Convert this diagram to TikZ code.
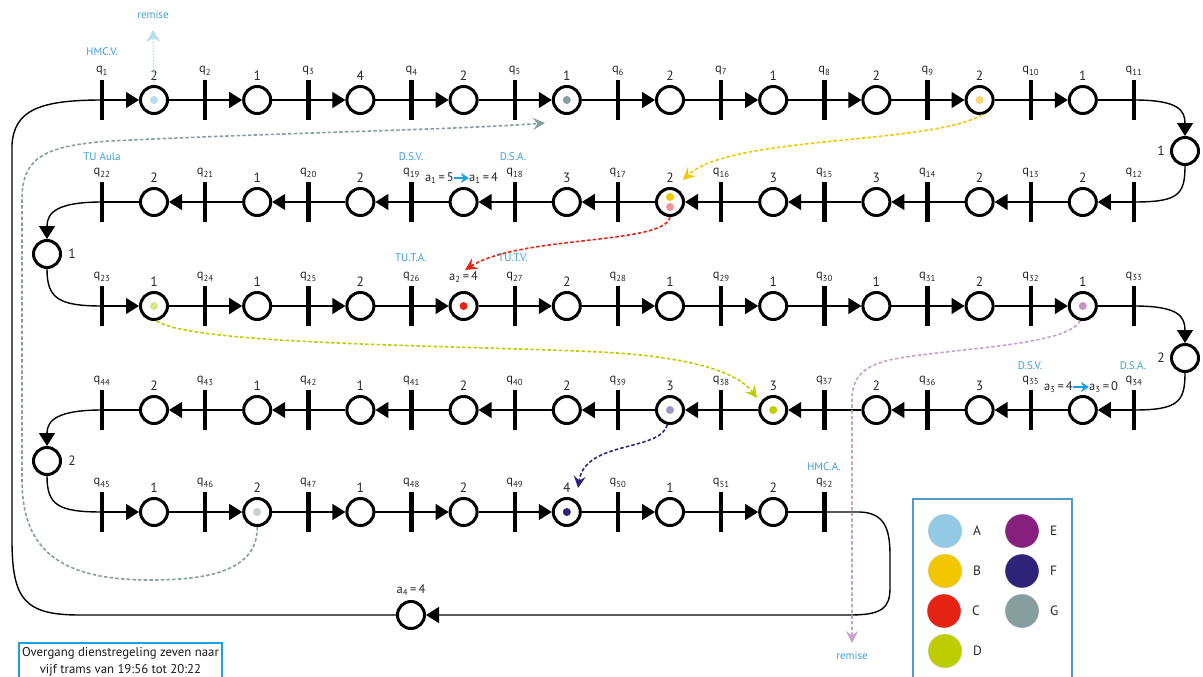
\documentclass[tikz,border=0pt]{standalone}
\usepackage{fontspec}
\setmainfont{PT Sans}
\usetikzlibrary{arrows.meta}
\definecolor{lblue}{RGB}{65,157,210}
\definecolor{abl}{RGB}{30,160,220}
\definecolor{tboxc}{RGB}{27,161,226}
\definecolor{lboxc}{RGB}{80,155,200}
\definecolor{cA}{RGB}{146,202,227}
\definecolor{cAl}{RGB}{184,221,236}
\definecolor{cB}{RGB}{242,199,0}
\definecolor{cBl}{RGB}{245,215,115}
\definecolor{cC}{RGB}{228,35,19}
\definecolor{cCl}{RGB}{240,150,150}
\definecolor{cD}{RGB}{189,205,0}
\definecolor{cDl}{RGB}{220,228,140}
\definecolor{cE}{RGB}{135,31,126}
\definecolor{cEl}{RGB}{200,147,196}
\definecolor{cEline}{RGB}{200,160,205}
\definecolor{cF}{RGB}{46,35,120}
\definecolor{cFl}{RGB}{156,152,198}
\definecolor{cG}{RGB}{135,158,158}
\definecolor{cGl}{RGB}{200,209,209}
\tikzset{
  pl/.style={circle,draw=black,line width=3pt,minimum size=27pt,inner sep=0pt},
  tbar/.style={rectangle,fill=black,minimum width=4.5pt,minimum height=40pt,inner sep=0pt},
  conn/.style={line width=1.4pt},
  arr/.style={conn,-{Triangle[length=13pt,width=16pt]}},
  nlab/.style={font=\fontsize{13.5}{15}\selectfont,inner sep=0pt,text=black!85},
  alab/.style={font=\fontsize{12.5}{15}\selectfont,inner sep=0pt,text=black!85},
  qlab/.style={font=\fontsize{12.5}{14}\selectfont,inner sep=0pt,text=black!85},
  blab/.style={font=\fontsize{11}{13}\selectfont,inner sep=0pt,text=lblue},
  dsh/.style={line width=1.6pt,dash pattern=on 3.5pt off 2.2pt},
  dtip/.style={-{Stealth[length=12pt,width=12pt,inset=4.5pt]}},
  barrow/.style={line width=2pt,color=abl,-{Stealth[length=8pt,width=10pt,inset=2.5pt]}},
  legc/.style={circle,minimum size=34pt,inner sep=0pt,draw=black!12,line width=0.4pt},
  leglab/.style={font=\fontsize{13.5}{15}\selectfont,inner sep=0pt,anchor=west,text=black!85}
}
\begin{document}
\begin{tikzpicture}[x=1pt,y=-1pt]
\useasboundingbox (0,0) rectangle (1203,677);

% ---------- Row A (y=100), left to right
\foreach \j in {1,...,11}{
  \pgfmathsetmacro\x{102+103.2*(\j-1)}
  \node[tbar] (qA\j) at (\x,100) {};
  \node[qlab] at (\x,71) {q\textsubscript{\j}};
}
\foreach \k/\t in {1/2,2/1,3/4,4/2,5/1,6/2,7/1,8/2,9/2,10/1}{
  \pgfmathsetmacro\x{154+103.2*(\k-1)}
  \node[pl] (pA\k) at (\x,100) {};
  \node[nlab] at (\x,76) {\t};
}
\foreach \k in {1,...,10}{
  \pgfmathtruncatemacro\kk{\k+1}
  \draw[arr] (qA\k.center) -- (pA\k);
  \draw[conn] (pA\k) -- (qA\kk.center);
}

% ---------- Row B (y=202), right to left
\foreach \j in {1,...,11}{
  \pgfmathsetmacro\x{102+103.2*(\j-1)}
  \pgfmathtruncatemacro\n{23-\j}
  \node[tbar] (qB\j) at (\x,202) {};
  \node[qlab] at (\x,173) {q\textsubscript{\n}};
}
\foreach \k/\t in {1/2,2/1,3/2,4/{},5/3,6/2,7/3,8/3,9/2,10/2}{
  \pgfmathsetmacro\x{154+103.2*(\k-1)}
  \node[pl] (pB\k) at (\x,202) {};
  \node[nlab] at (\x,178) {\t};
}
\foreach \k in {1,...,10}{
  \pgfmathtruncatemacro\kk{\k+1}
  \draw[arr] (qB\kk.center) -- (pB\k);
  \draw[conn] (pB\k) -- (qB\k.center);
}

% ---------- Row C (y=306), left to right
\foreach \j in {1,...,11}{
  \pgfmathsetmacro\x{102+103.2*(\j-1)}
  \pgfmathtruncatemacro\n{22+\j}
  \node[tbar] (qC\j) at (\x,306) {};
  \node[qlab] at (\x,277) {q\textsubscript{\n}};
}
\foreach \k/\t in {1/1,2/1,3/2,4/{},5/2,6/1,7/1,8/1,9/2,10/1}{
  \pgfmathsetmacro\x{154+103.2*(\k-1)}
  \node[pl] (pC\k) at (\x,306) {};
  \node[nlab] at (\x,282) {\t};
}
\foreach \k in {1,...,10}{
  \pgfmathtruncatemacro\kk{\k+1}
  \draw[arr] (qC\k.center) -- (pC\k);
  \draw[conn] (pC\k) -- (qC\kk.center);
}

% ---------- Row D (y=410), right to left
\foreach \j in {1,...,11}{
  \pgfmathsetmacro\x{102+103.2*(\j-1)}
  \pgfmathtruncatemacro\n{45-\j}
  \node[tbar] (qD\j) at (\x,410) {};
  \node[qlab] at (\x,381) {q\textsubscript{\n}};
}
\foreach \k/\t in {1/2,2/1,3/1,4/2,5/2,6/3,7/3,8/2,9/3,10/{}}{
  \pgfmathsetmacro\x{154+103.2*(\k-1)}
  \node[pl] (pD\k) at (\x,410) {};
  \node[nlab] at (\x,386) {\t};
}
\foreach \k in {1,...,10}{
  \pgfmathtruncatemacro\kk{\k+1}
  \draw[arr] (qD\kk.center) -- (pD\k);
  \draw[conn] (pD\k) -- (qD\k.center);
}

% ---------- Row E (y=512), left to right
\foreach \j in {1,...,8}{
  \pgfmathsetmacro\x{102+103.2*(\j-1)}
  \pgfmathtruncatemacro\n{44+\j}
  \node[tbar] (qE\j) at (\x,512) {};
  \node[qlab] at (\x,483) {q\textsubscript{\n}};
}
\foreach \k/\t in {1/1,2/2,3/1,4/2,5/4,6/1,7/2}{
  \pgfmathsetmacro\x{154+103.2*(\k-1)}
  \node[pl] (pE\k) at (\x,512) {};
  \node[nlab] at (\x,488) {\t};
}
\foreach \k in {1,...,7}{
  \pgfmathtruncatemacro\kk{\k+1}
  \draw[arr] (qE\k.center) -- (pE\k);
  \draw[conn] (pE\k) -- (qE\kk.center);
}

% ---------- side places
\node[pl] (pR1) at (1185,151) {};
\node[nlab] at (1161,151) {1};
\node[pl] (pL1) at (47,254) {};
\node[nlab] at (72,254) {1};
\node[pl] (pR2) at (1185,358) {};
\node[nlab] at (1161,358) {2};
\node[pl] (pL2) at (47,461) {};
\node[nlab] at (72,461) {2};
\node[pl] (pF) at (411,615) {};

\draw[arr] (qA11.center) .. controls (1178,100) and (1185,110) .. (pR1);
\draw[conn] (pR1) .. controls (1185,195) and (1178,202) .. (qB11.center);
\draw[arr] (qB1.center) .. controls (58,202) and (47,212) .. (pL1);
\draw[conn] (pL1) .. controls (47,298) and (58,306) .. (qC1.center);
\draw[arr] (qC11.center) .. controls (1178,306) and (1185,316) .. (pR2);
\draw[conn] (pR2) .. controls (1185,402) and (1178,410) .. (qD11.center);
\draw[arr] (qD1.center) .. controls (58,410) and (47,420) .. (pL2);
\draw[conn] (pL2) .. controls (47,505) and (58,512) .. (qE1.center);

% bottom loop
\draw[arr] (qE8.center) -- (860,512) .. controls (884,513) and (890,528) .. (890,555) -- (890,588) .. controls (890,608) and (882,615) .. (850,615) -- (pF);
\draw[conn] (pF) -- (80,615) .. controls (25,615) and (12,600) .. (12,540) -- (12,145) .. controls (14,110) and (40,100) .. (qA1.center);

% ---------- special labels
\node[alab,anchor=east] (a1l) at (454,178) {a\textsubscript{1}\,=\,5};
\node[alab,anchor=west] (a1r) at (469,178) {a\textsubscript{1}\,=\,4};
\draw[barrow] (a1l.east) -- (a1r.west);
\node[alab] (a2) at (463.6,277) {a\textsubscript{2}\,=\,4};
\node[alab,anchor=east] (a3l) at (1073,387) {a\textsubscript{3}\,=\,4};
\node[alab,anchor=west] (a3r) at (1089,387) {a\textsubscript{3}\,=\,0};
\draw[barrow] (a3l.east) -- (a3r.west);
\node[alab] (a4) at (411,590) {a\textsubscript{4}\,=\,4};

% ---------- blue station labels
\node[blab] at (102,52) {HMC.V.};
\node[blab] (remT) at (153,15) {remise};
\node[blab] at (102,157) {TU Aula};
\node[blab] at (411,157) {D.S.V.};
\node[blab] at (513,157) {D.S.A.};
\node[blab] at (411,258) {TU.T.A.};
\node[blab] at (513,258) {TU.T.V.};
\node[blab] at (1030,366) {D.S.V.};
\node[blab] at (1133,366) {D.S.A.};
\node[blab] at (824,467) {HMC.A.};
\node[blab] (remB) at (852,656) {remise};

% ---------- tokens
\fill[cAl] (pA1) circle (4pt);
\fill[cG] (pA5) circle (4pt);
\fill[cBl] (pA9) circle (4pt);
\fill[cB] ([yshift=5pt]pB6.center) circle (4pt);
\fill[cCl] ([yshift=-5pt]pB6.center) circle (4pt);
\fill[cDl] (pC1) circle (4pt);
\fill[cC] (pC4) circle (4pt);
\fill[cEl] (pC10) circle (4pt);
\fill[cFl] (pD6) circle (4pt);
\fill[cD] (pD7) circle (4pt);
\fill[cGl] (pE2) circle (4pt);
\fill[cF] (pE5) circle (4pt);

% ---------- dashed token moves
\coordinate (endA) at (153,30);
\coordinate (endB) at (683,180);
\coordinate (endC) at (465,270);
\coordinate (endD) at (757,398);
\coordinate (endE) at (852,643);
\coordinate (endF) at (578,488);
\coordinate (endG) at (545,123);
\draw[line width=1.5pt,color=cAl,dash pattern=on 1.5pt off 1.5pt,-{Stealth[length=12pt,width=14pt,inset=4pt]}] (pA1.north) -- (endA);
\draw[dsh,dtip,color=cB] (pA9.-80) .. controls (930,145) and (730,135) .. (endB);
\draw[dsh,dtip,color=cC] (pB6.south) .. controls (665,245) and (520,235) .. (endC);
\draw[dsh,dtip,color=cD] (pC1.-80) .. controls (190,345) and (450,345) .. (600,352) .. controls (700,357) and (740,375) .. (endD);
\draw[dsh,dtip,color=cEline] (pC10.-100) .. controls (1068,345) and (960,348) .. (900,358) .. controls (862,364) and (852,378) .. (852,400) -- (endE);
\draw[dsh,dtip,color=cF] (pD6.-100) .. controls (660,452) and (585,440) .. (endF);
\draw[dsh,dtip,color=cG] (pE2.south) .. controls (258,572) and (205,580) .. (150,580) .. controls (60,580) and (22,550) .. (22,480) -- (22,200) .. controls (22,160) and (40,146) .. (110,141) .. controls (300,132) and (450,130) .. (endG);

% ---------- legend
\draw[lboxc,line width=2pt] (913,499) rectangle (1072,690);
\foreach \c/\lx/\ly/\t in {cA/945/531/A,cB/945/571/B,cC/944/611/C,cD/945/651/D,cE/1022/531/E,cF/1022/571/F,cG/1022/611/G}{
  \node[legc,fill=\c] (leg\t) at (\lx,\ly) {};
  \node[leglab] at (\lx+28,\ly) {\t};
}

% ---------- title box
\draw[tboxc,line width=2.5pt] (19,643) rectangle (222,690);
\node[font=\fontsize{12.8}{17}\selectfont,align=center,inner sep=0pt,text=black!90] (title) at (120.5,661.5) {Overgang dienstregeling zeven naar\\vijf trams van 19:56 tot 20:22};
\end{tikzpicture}
\end{document}
